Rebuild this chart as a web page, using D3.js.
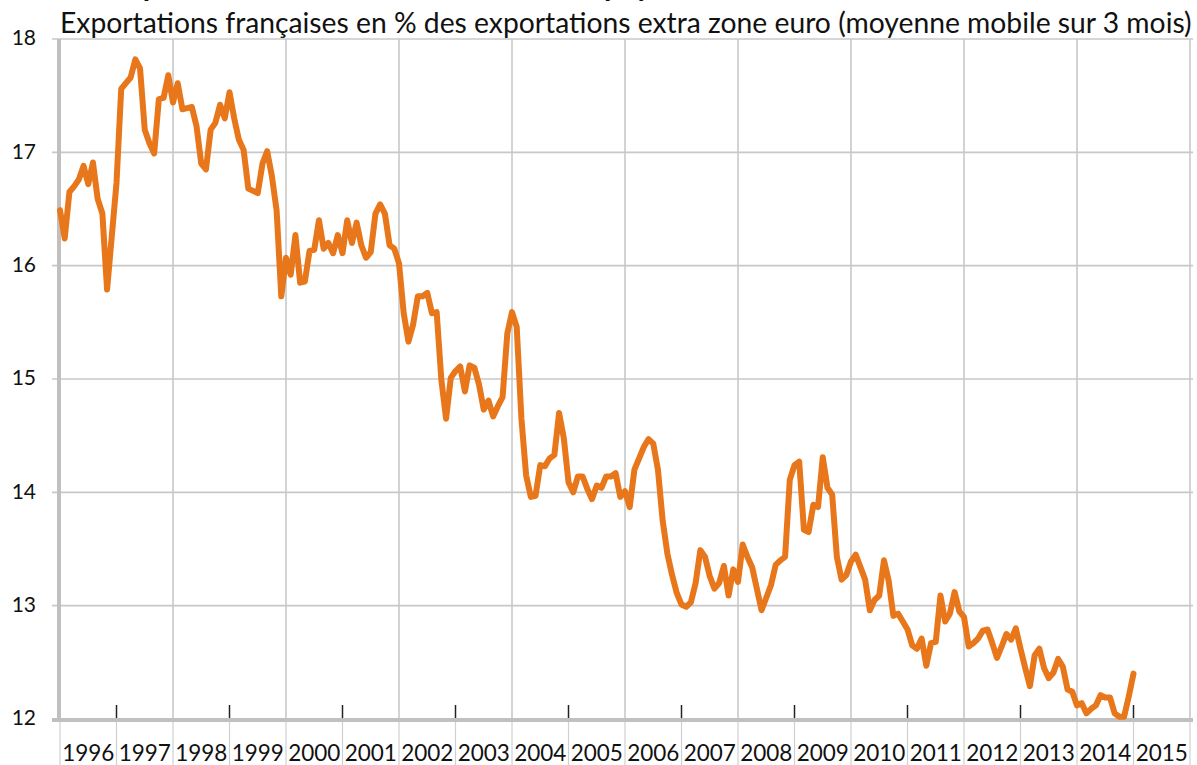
<!DOCTYPE html>
<html>
<head>
<meta charset="utf-8">
<script src="https://cdn.jsdelivr.net/npm/d3@7"></script>
<style>
  body { margin: 0; background: #fff; }
  svg { display: block; font-family: Lato, "Open Sans", sans-serif; }
</style>
</head>
<body>
<svg id="chart" width="1197" height="765"></svg>
<script>
/**
 * Exportations françaises en % des exportations extra zone euro
 */
const startYear = 1996;
const years = d3.range(1996, 2016);          // x axis categories
const yTicks = [12, 13, 14, 15, 16, 17, 18];

// monthly values, Jan 1996 -> Jan 2015 (moyenne mobile 3 mois)
const v1996 = [16.49, 16.24, 16.65, 16.70, 16.76, 16.88, 16.72, 16.91, 16.59, 16.46, 15.79, 16.26];
const v1997 = [16.73, 17.56, 17.61, 17.66, 17.82, 17.74, 17.20, 17.08, 16.99, 17.47, 17.48, 17.68];
const v1998 = [17.44, 17.61, 17.38, 17.39, 17.40, 17.23, 16.90, 16.85, 17.20, 17.26, 17.42, 17.30];
const v1999 = [17.53, 17.30, 17.11, 17.02, 16.68, 16.66, 16.64, 16.90, 17.01, 16.79, 16.49, 15.73];
const v2000 = [16.07, 15.92, 16.27, 15.85, 15.86, 16.13, 16.14, 16.40, 16.15, 16.20, 16.11, 16.27];
const v2001 = [16.11, 16.40, 16.20, 16.38, 16.18, 16.07, 16.12, 16.46, 16.54, 16.46, 16.18, 16.15];
const v2002 = [16.02, 15.58, 15.33, 15.48, 15.73, 15.73, 15.76, 15.58, 15.59, 14.99, 14.65, 15.01];
const v2003 = [15.07, 15.11, 14.89, 15.12, 15.10, 14.95, 14.73, 14.81, 14.67, 14.76, 14.84, 15.40];
const v2004 = [15.59, 15.46, 14.65, 14.15, 13.96, 13.97, 14.24, 14.23, 14.30, 14.33, 14.70, 14.48];
const v2005 = [14.09, 14.00, 14.14, 14.14, 14.03, 13.94, 14.06, 14.04, 14.14, 14.14, 14.17, 13.96];
const v2006 = [14.01, 13.87, 14.20, 14.30, 14.40, 14.47, 14.43, 14.20, 13.75, 13.46, 13.27, 13.11];
const v2007 = [13.01, 12.99, 13.03, 13.20, 13.49, 13.43, 13.26, 13.15, 13.20, 13.35, 13.09, 13.32];
const v2008 = [13.21, 13.54, 13.43, 13.34, 13.15, 12.96, 13.07, 13.18, 13.36, 13.40, 13.43, 14.11];
const v2009 = [14.24, 14.27, 13.67, 13.65, 13.89, 13.87, 14.31, 14.04, 13.98, 13.43, 13.23, 13.27];
const v2010 = [13.39, 13.45, 13.34, 13.23, 12.96, 13.05, 13.09, 13.40, 13.22, 12.91, 12.93, 12.86];
const v2011 = [12.79, 12.65, 12.62, 12.71, 12.47, 12.67, 12.68, 13.09, 12.86, 12.93, 13.12, 12.95];
const v2012 = [12.90, 12.64, 12.67, 12.71, 12.78, 12.79, 12.67, 12.54, 12.64, 12.75, 12.70, 12.80];
const v2013 = [12.62, 12.45, 12.29, 12.56, 12.62, 12.45, 12.36, 12.41, 12.53, 12.46, 12.26, 12.24];
const v2014 = [12.12, 12.14, 12.05, 12.09, 12.12, 12.21, 12.19, 12.19, 12.05, 12.02, 12.02, 12.20];
const v2015 = [12.40];

const share = [].concat(v1996, v1997, v1998, v1999, v2000, v2001, v2002, v2003, v2004,
  v2005, v2006, v2007, v2008, v2009, v2010, v2011, v2012, v2013, v2014, v2015);

const svg = d3.select("svg#chart");
const plotLeft = 60, plotRight = 1190, plotTop = 39, plotBottom = 719;

// months since Jan 1996
const x = d3.scaleLinear().domain([0, years.length * 12]).range([plotLeft, plotRight]);
const y = d3.scaleLinear().domain([12, 18]).range([plotBottom, plotTop]);

const gridColor = "#c8c8c8";

// heading above the frame, cut by the top edge in the original (only descenders show)
svg.append("text")
   .attr("x", plotLeft).attr("y", -4)
   .style("font-weight", "bold").style("font-size", "30px")
   .attr("fill", "#111")
   .text("Les exportations de la France vers les");
svg.append("text")
   .attr("x", 604).attr("y", -4)
   .style("font-weight", "bold").style("font-size", "30px")
   .attr("fill", "#111")
   .text("pays hors zone euro");

// subtitle, fitted to the plot width
const sub = svg.append("text")
   .attr("x", plotLeft).attr("y", 33)
   .attr("fill", "#111")
   .style("font-size", "25px")
   .text("Exportations françaises en % des exportations extra zone euro (moyenne mobile sur 3 mois)");
const w = sub.node().getComputedTextLength();
sub.style("font-size", (25 * (plotRight - plotLeft + 2) / w) + "px");

// horizontal grid
svg.append("g")
   .selectAll("line")
   .data(yTicks)
   .join("line")
   .attr("x1", plotLeft - 8).attr("x2", plotRight + 3)
   .attr("y1", d => y(d)).attr("y2", d => y(d))
   .attr("stroke", gridColor).attr("stroke-width", 1.6);

// vertical grid every two years
svg.append("g")
   .selectAll("line")
   .data(years.filter((d, i) => i % 2 === 0).map(d => (d - startYear) * 12).concat([years.length * 12]))
   .join("line")
   .attr("x1", d => x(d)).attr("x2", d => x(d))
   .attr("y1", plotTop).attr("y2", plotBottom)
   .attr("stroke", gridColor).attr("stroke-width", 1.6);

// year separators below the axis
svg.append("g")
   .selectAll("line")
   .data(d3.range(years.length + 1))
   .join("line")
   .attr("x1", d => x(d * 12)).attr("x2", d => x(d * 12))
   .attr("y1", plotBottom).attr("y2", 765)
   .attr("stroke", "#d0d0d0").attr("stroke-width", 1.2);

// axis lines
svg.append("line")
   .attr("x1", plotLeft - 1).attr("x2", plotLeft - 1)
   .attr("y1", plotTop).attr("y2", plotBottom)
   .attr("stroke", "#c0c0c0").attr("stroke-width", 4);
svg.append("line")
   .attr("x1", plotLeft - 8).attr("x2", plotRight + 3)
   .attr("y1", plotBottom + 1).attr("y2", plotBottom + 1)
   .attr("stroke", "#c0c0c0").attr("stroke-width", 4);

// small black ticks on the other years
svg.append("g")
   .selectAll("line")
   .data(years.filter((d, i) => i % 2 === 1).map(d => (d - startYear) * 12))
   .join("line")
   .attr("x1", d => x(d)).attr("x2", d => x(d))
   .attr("y1", plotBottom - 14).attr("y2", plotBottom - 1)
   .attr("stroke", "#222").attr("stroke-width", 1.5);

// y labels
svg.append("g")
   .selectAll("text")
   .data(yTicks)
   .join("text")
   .attr("x", 36)
   .attr("y", d => y(d))
   .attr("dy", "0.3em")
   .attr("text-anchor", "end")
   .attr("fill", "#111")
   .style("font-size", "21px")
   .text(d => d);

// x labels
svg.append("g")
   .selectAll("text")
   .data(years)
   .join("text")
   .attr("x", d => x((d - startYear) * 12 + 6))
   .attr("y", 761)
   .attr("text-anchor", "middle")
   .attr("fill", "#111")
   .style("font-size", "22.5px")
   .text(d => d);

// the series
const line = d3.line()
   .x((d, i) => x(i))
   .y(d => y(d));

svg.append("path")
   .datum(share)
   .attr("d", line)
   .attr("fill", "none")
   .attr("stroke", "#e8761a")
   .attr("stroke-width", 6)
   .attr("stroke-linejoin", "round")
   .attr("stroke-linecap", "round");
</script>
</body>
</html>
